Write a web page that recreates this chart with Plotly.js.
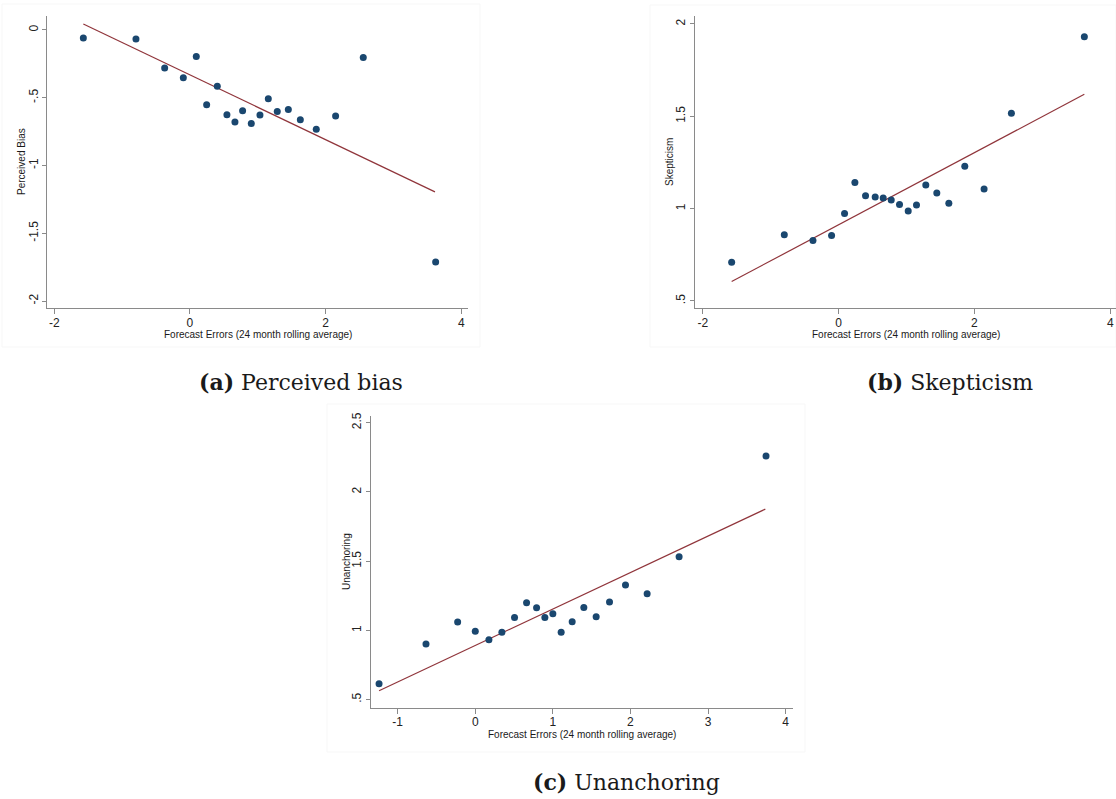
<!DOCTYPE html>
<html>
<head>
<meta charset="utf-8">
<script src="https://cdn.plot.ly/plotly-3.0.1.min.js"></script>
<style>html,body{margin:0;padding:0;background:#fff;}#chart{width:1116px;height:799px;}</style>
</head>
<body>
<div id="chart"></div>
<script>
// ---- Data ----
// (a) Perceived bias
const biasX = [-1.572, -0.796, -0.373, -0.098, 0.093, 0.246, 0.403, 0.545, 0.663, 0.776, 0.904, 1.032, 1.155, 1.287, 1.450, 1.627, 1.862, 2.147, 2.555, 3.622];
const biasY = [-0.059, -0.066, -0.281, -0.352, -0.195, -0.552, -0.416, -0.626, -0.680, -0.596, -0.690, -0.628, -0.507, -0.601, -0.586, -0.663, -0.732, -0.635, -0.204, -1.712];
const biasFitX = [-1.572, 3.612];
const biasFitY = [0.044, -1.195];

// (b) Skepticism
const skepX = [-1.574, -0.799, -0.377, -0.103, 0.088, 0.240, 0.397, 0.539, 0.657, 0.775, 0.897, 1.025, 1.147, 1.284, 1.446, 1.623, 1.858, 2.142, 2.544, 3.618];
const skepY = [0.709, 0.859, 0.827, 0.854, 0.973, 1.141, 1.069, 1.063, 1.058, 1.047, 1.022, 0.987, 1.020, 1.128, 1.085, 1.029, 1.229, 1.106, 1.516, 1.931];
const skepFitX = [-1.574, 3.618];
const skepFitY = [0.605, 1.619];

// (c) Unanchoring
const unX = [-1.240, -0.635, -0.227, 0.000, 0.176, 0.343, 0.506, 0.661, 0.790, 0.897, 1.000, 1.107, 1.249, 1.399, 1.558, 1.730, 1.936, 2.215, 2.627, 3.747];
const unY = [0.615, 0.901, 1.060, 0.993, 0.933, 0.986, 1.094, 1.200, 1.164, 1.094, 1.120, 0.986, 1.063, 1.166, 1.099, 1.205, 1.327, 1.265, 1.532, 2.259];
const unFitX = [-1.240, 3.738];
const unFitY = [0.564, 1.876];

// ---- Tick labels ----
const xTicksAB = [-2, 0, 2, 4];
const xTickTextAB = ['-2', '0', '2', '4'];
const xTicksC = [-1, 0, 1, 2, 3, 4];
const xTickTextC = ['-1', '0', '1', '2', '3', '4'];
const yTicksA = [-2, -1.5, -1, -0.5, 0];
const yTickTextA = ['-2', '-1.5', '-1', '-.5', '0'];
const yTicksB = [0.5, 1, 1.5, 2];
const yTickTextB = ['.5', '1', '1.5', '2'];
const yTicksC = [0.5, 1, 1.5, 2, 2.5];
const yTickTextC = ['.5', '1', '1.5', '2', '2.5'];

const xTitle = 'Forecast Errors (24 month rolling average)';
const yTitles = ['Perceived Bias', 'Skepticism', 'Unanchoring'];
const captions = ['<b>(a)</b> Perceived bias', '<b>(b)</b> Skepticism', '<b>(c)</b> Unanchoring'];

// ---- Styles ----
const dotColor = '#1a476f';
const lineColor = '#90353b';
const axisColor = '#8a8a8a';
const sans = 'Liberation Sans, Arial, sans-serif';
const serif = 'DejaVu Serif, serif';

function dots(x, y, xa, ya) {
  return {x: x, y: y, xaxis: xa, yaxis: ya, type: 'scatter', mode: 'markers',
    marker: {color: dotColor, size: 7}, hoverinfo: 'x+y'};
}
function fit(x, y, xa, ya) {
  return {x: x, y: y, xaxis: xa, yaxis: ya, type: 'scatter', mode: 'lines',
    line: {color: lineColor, width: 1.2}, hoverinfo: 'skip'};
}

const data = [
  fit(biasFitX, biasFitY, 'x', 'y'), dots(biasX, biasY, 'x', 'y'),
  fit(skepFitX, skepFitY, 'x2', 'y2'), dots(skepX, skepY, 'x2', 'y2'),
  fit(unFitX, unFitY, 'x3', 'y3'), dots(unX, unY, 'x3', 'y3')
];

function xAxis(domain, range, tv, tt, anchor) {
  return {domain: domain, range: range, anchor: anchor, tickvals: tv, ticktext: tt,
    showline: true, linecolor: axisColor, linewidth: 1, ticks: 'outside', ticklen: 5,
    tickcolor: axisColor, tickwidth: 1, showgrid: false, zeroline: false,
    ticklabelstandoff: -2,
    tickfont: {family: sans, size: 12, color: '#222'}};
}
function yAxis(domain, range, tv, tt, anchor) {
  return {domain: domain, range: range, anchor: anchor, tickvals: tv, ticktext: tt,
    showline: true, linecolor: axisColor, linewidth: 1, ticks: 'outside', ticklen: 4,
    tickcolor: axisColor, tickwidth: 1, showgrid: false, zeroline: false, tickangle: -90,
    tickfont: {family: sans, size: 12, color: '#222'}};
}

const W = 1116, H = 799;
function rect(x0, y0, x1, y1) {
  return {type: 'rect', xref: 'paper', yref: 'paper', x0: x0 / W, x1: x1 / W,
    y0: 1 - y1 / H, y1: 1 - y0 / H, line: {color: '#f7f7f7', width: 1}, layer: 'below'};
}
function label(text, px, py, size, family, angle) {
  return {text: text, xref: 'paper', yref: 'paper', x: px / W, y: 1 - py / H, showarrow: false,
    xanchor: 'center', yanchor: 'middle', textangle: angle || 0,
    font: {family: family, size: size, color: '#1a1a1a'}};
}

const layout = {
  width: W, height: H, margin: {l: 0, r: 0, t: 0, b: 0},
  paper_bgcolor: '#ffffff', plot_bgcolor: '#ffffff', showlegend: false,
  xaxis: xAxis([0.0424, 0.4196], [-2.103, 4.103], xTicksAB, xTickTextAB, 'y'),
  yaxis: yAxis([0.6141, 0.9804], [-2.054, 0.1055], yTicksA, yTickTextA, 'x'),
  xaxis2: xAxis([0.6228, 1.0], [-2.113, 4.084], xTicksAB, xTickTextAB, 'y2'),
  yaxis2: yAxis([0.6141, 0.98], [0.460, 2.043], yTicksB, yTickTextB, 'x2'),
  xaxis3: xAxis([0.3327, 0.7108], [-1.340, 4.098], xTicksC, xTickTextC, 'y3'),
  yaxis3: yAxis([0.1143, 0.4793], [0.442, 2.548], yTicksC, yTickTextC, 'x3'),
  shapes: [rect(2, 4, 480, 347), rect(650, 5, 1116, 347), rect(327, 404, 805, 752)],
  annotations: [
    label(xTitle, 258, 334.5, 10, sans),
    label(xTitle, 906, 334.5, 10, sans),
    label(xTitle, 582, 734, 10, sans),
    label(yTitles[0], 21, 162, 10, sans, -90),
    label(yTitles[1], 669, 162, 10, sans, -90),
    label(yTitles[2], 346, 562, 10, sans, -90),
    label(captions[0], 301, 382, 22, serif),
    label(captions[1], 950, 382, 22, serif),
    label(captions[2], 627, 782, 22, serif)
  ]
};

Plotly.newPlot('chart', data, layout, {displayModeBar: false, staticPlot: true});
</script>
</body>
</html>
